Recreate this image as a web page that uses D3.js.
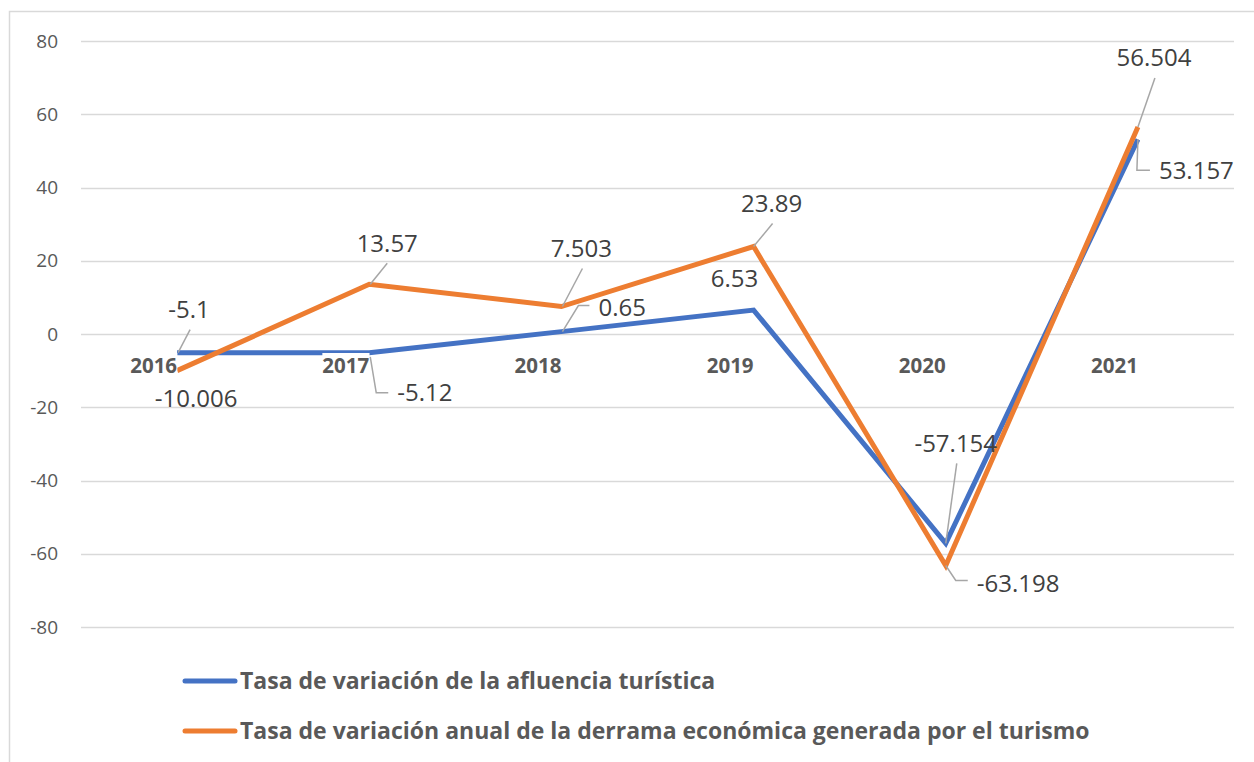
<!DOCTYPE html>
<html>
<head>
<meta charset="utf-8">
<script src="https://cdn.jsdelivr.net/npm/d3@7"></script>
<style>
  body { margin: 0; background: #fff; }
  svg { display: block; }
</style>
</head>
<body>
<div id="chart"></div>
<script>
// data
const years = ['2016', '2017', '2018', '2019', '2020', '2021'];
const afluencia = [-5.1, -5.12, 0.65, 6.53, -57.154, 53.157];
const derrama = [-10.006, 13.57, 7.503, 23.89, -63.198, 56.504];
const yTicks = [80, 60, 40, 20, 0, -20, -40, -60, -80];
const seriesNames = [
  'Tasa de variación de la afluencia turística',
  'Tasa de variación anual de la derrama económica generada por el turismo'
];

// label placement relative to the point (px)
const afluenciaLabels = [
  { dx: 12, dy: -43, anchor: 'middle', leader: [[1, 0], [13, -23]] },
  { dx: 28, dy: 40, anchor: 'start', leader: [[1, 4], [7, 40], [19, 40]] },
  { dx: 37, dy: -24, anchor: 'start', leader: [[1, 0], [17, -26], [28, -26]] },
  { dx: -19, dy: -31, anchor: 'middle', leader: null },
  { dx: 10, dy: -100, anchor: 'middle', leader: [[0, 0], [11, -80]] },
  { dx: 21, dy: 31, anchor: 'start', leader: [[0, 0], [-1, 31], [12, 31]] }
];
const derramaLabels = [
  { dx: 19, dy: 28, anchor: 'middle', leader: null },
  { dx: 18, dy: -41, anchor: 'middle', leader: [[1, 0], [18, -21]] },
  { dx: 20, dy: -58, anchor: 'middle', leader: [[1, 0], [21, -38]] },
  { dx: 18, dy: -43, anchor: 'middle', leader: [[0, 0], [19, -23]] },
  { dx: 31, dy: 18, anchor: 'start', leader: [[0, 0], [10, 15], [22, 15]] },
  { dx: 16, dy: -69, anchor: 'middle', leader: [[0, 0], [17, -49]] }
];

const W = 1254, H = 762;
const plot = { left: 81, right: 1234, top: 41, bottom: 627 };
const blue = '#4472C4', orange = '#ED7D31';

const svg = d3.select('#chart').append('svg')
  .attr('width', W).attr('height', H);

svg.append('rect')
  .attr('x', 9.5).attr('y', 11.5)
  .attr('width', 1250).attr('height', 760)
  .attr('fill', '#fff').attr('stroke', '#d9d9d9').attr('stroke-width', 1.5);

const x = d3.scaleBand().domain(years).range([plot.left, plot.right]);
const y = d3.scaleLinear().domain([-80, 80]).range([plot.bottom, plot.top]);
const cx = d => x(d) + x.bandwidth() / 2;

// grid
svg.append('g')
  .selectAll('line')
  .data(yTicks)
  .join('line')
  .attr('x1', plot.left).attr('x2', plot.right)
  .attr('y1', d => Math.round(y(d)) + 0.5).attr('y2', d => Math.round(y(d)) + 0.5)
  .attr('stroke', '#d9d9d9').attr('stroke-width', 1.5);

// y axis labels
svg.append('g')
  .selectAll('text')
  .data(yTicks)
  .join('text')
  .attr('x', 58).attr('y', d => y(d))
  .attr('dy', '0.35em')
  .attr('text-anchor', 'end')
  .style('font-family', '"Open Sans", sans-serif')
  .style('font-size', '19px')
  .style('fill', '#595959')
  .text(d => d);

// lines
const line = d3.line()
  .x((d, i) => cx(years[i]))
  .y(d => y(d));

[[afluencia, blue], [derrama, orange]].forEach(([vals, col]) => {
  svg.append('path')
    .datum(vals)
    .attr('d', line)
    .attr('fill', 'none')
    .attr('stroke', col)
    .attr('stroke-width', 5)
    .attr('stroke-linejoin', 'miter');
});

// category labels (white box over the lines, right aligned to category)
const catG = svg.append('g');
years.forEach(yr => {
  const t = catG.append('text')
    .attr('x', cx(yr)).attr('y', y(0) + 39)
    .attr('text-anchor', 'end')
    .style('font-family', '"Open Sans", sans-serif')
    .style('font-weight', '700')
    .style('font-size', '20.5px')
    .style('fill', '#595959')
    .text(yr);
  const bb = t.node().getBBox();
  catG.insert('rect', 'text')
    .attr('x', bb.x).attr('y', y(0) + 19)
    .attr('width', bb.width).attr('height', 24)
    .attr('fill', '#fff');
});

// data labels
function drawLabels(vals, places) {
  const g = svg.append('g');
  vals.forEach((v, i) => {
    const px = cx(years[i]), py = y(v);
    const p = places[i];
    if (p.leader) {
      g.append('polyline')
        .attr('points', p.leader.map(q => [px + q[0], py + q[1]].join(',')).join(' '))
        .attr('fill', 'none')
        .attr('stroke', '#a6a6a6')
        .attr('stroke-width', 1.5);
    }
    g.append('text')
      .attr('x', px + p.dx).attr('y', py + p.dy)
      .attr('dy', '0.35em')
      .attr('text-anchor', p.anchor)
      .style('font-family', '"Open Sans", sans-serif')
      .style('font-size', '24px')
      .style('fill', '#404040')
      .text(v);
  });
}
drawLabels(afluencia, afluenciaLabels);
drawLabels(derrama, derramaLabels);

// legend
const legend = svg.append('g');
[[seriesNames[0], blue, 681], [seriesNames[1], orange, 731]].forEach(([name, col, ly]) => {
  legend.append('line')
    .attr('x1', 185).attr('x2', 235)
    .attr('y1', ly).attr('y2', ly)
    .attr('stroke', col).attr('stroke-width', 5)
    .attr('stroke-linecap', 'round');
  legend.append('text')
    .attr('x', 240).attr('y', ly)
    .attr('dy', '0.36em')
    .style('font-family', '"Open Sans", sans-serif')
    .style('font-weight', '700')
    .style('font-size', '23px')
    .style('fill', '#595959')
    .text(name);
});
</script>
</body>
</html>
